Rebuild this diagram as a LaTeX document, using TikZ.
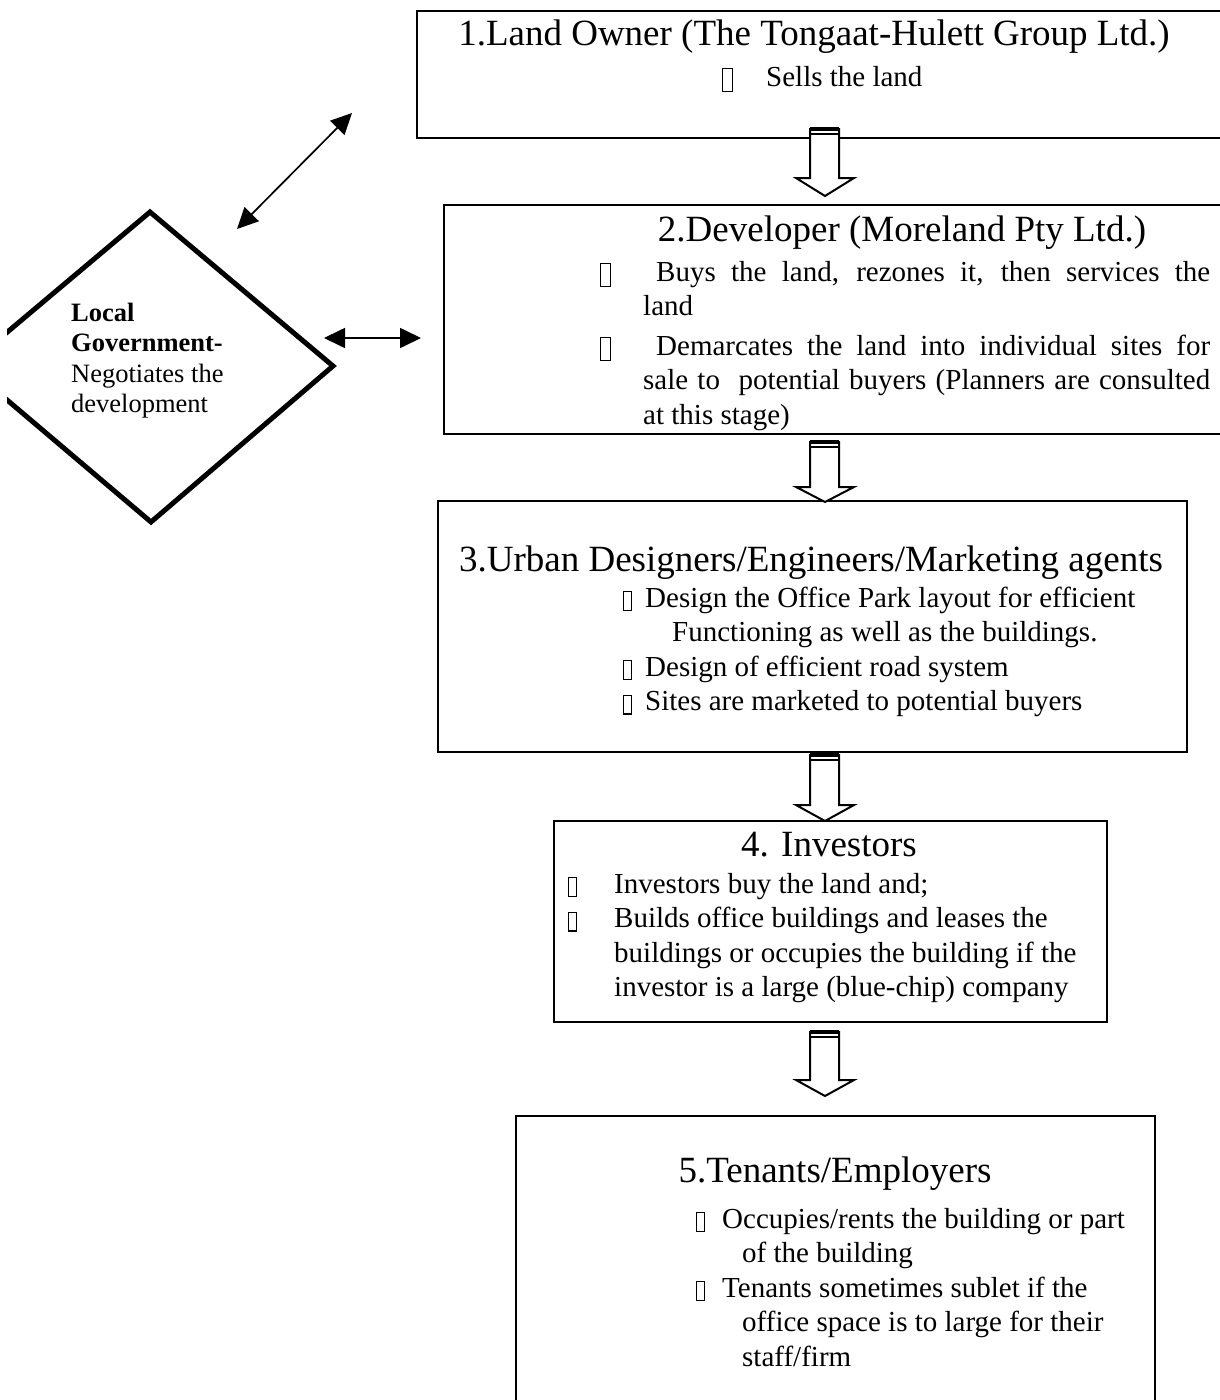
\documentclass[tikz,border=0pt]{standalone}
\usepackage{fontspec}
\setmainfont{Liberation Serif}
\usetikzlibrary{arrows.meta,shapes.geometric}

% hollow bullet glyphs
\newcommand\bx{\raisebox{-4.8pt}{\setlength\fboxsep{0pt}\setlength\fboxrule{1.2pt}\fbox{\rule{0pt}{21.6pt}\rule{8.6pt}{0pt}}}}
\newcommand\bxs{\raisebox{-2.8pt}{\setlength\fboxsep{0pt}\setlength\fboxrule{1.2pt}\fbox{\rule{0pt}{17.6pt}\rule{6.6pt}{0pt}}}}
\newcommand\titlefont{\fontsize{37}{44}\selectfont}
\newcommand\bodyfont{\fontsize{29}{34.5}\selectfont}
\newcommand\govfont{\fontsize{26.5}{30.5}\selectfont}

% hollow block arrow: top edge, start of head, tip
\newcommand\blockarrow[3]{%
  \draw[blockline] (810,#1) -- (810,#2) -- (796,#2) -- (825,#3) -- (854,#2) -- (839,#2) -- (839,#1) -- cycle;
  \draw[line width=3.2pt] (810,#1) -- (839,#1);
  \draw[line width=1.4pt] (810,#1+5) -- (839,#1+5);
}

\begin{document}
\begin{tikzpicture}[x=1pt,y=-1pt,
  stage/.style={draw=black, line width=1.7pt, rectangle, inner sep=0pt, anchor=north west},
  txt/.style={inner sep=0pt, anchor=base west},
  ttl/.style={inner sep=0pt, anchor=base, font=\titlefont},
  blockline/.style={draw=black, fill=white, line width=2pt, line join=miter},
  dbl/.style={line width=1.7pt, {Triangle[length=21pt,width=20pt]}-{Triangle[length=21pt,width=20pt]}}]

\useasboundingbox (0,0) rectangle (1219,1400);
\fill[white] (0,0) rectangle (1219,1400);

% stage boxes
\node[stage, minimum width=830pt, minimum height=127pt] (b1) at (416,10) {};
\node[stage, minimum width=800pt, minimum height=229pt] (b2) at (443,204) {};
\node[stage, minimum width=749pt, minimum height=251pt] (b3) at (437,500) {};
\node[stage, minimum width=553pt, minimum height=201pt] (b4) at (553,820) {};
\node[stage, minimum width=639pt, minimum height=340pt] (b5) at (515,1115) {};

% block arrows between the stages
\blockarrow{129}{178}{196}
\blockarrow{442}{487}{502}
\blockarrow{755}{805}{821}
\blockarrow{1032}{1080}{1096}

% local government diamond, cut at the left margin
\begin{scope}
  \clip (7,0) rectangle (1219,1400);
  \draw[line width=5pt, line join=miter] (150,212) -- (333,366) -- (151,522) -- (-33,366) -- cycle;
\end{scope}
\coordinate (lg) at (150,367);
\node[txt] (lgtext) at (71,321) {\vtop{\govfont
  \hbox{\bfseries Local}
  \hbox{\bfseries Government-}
  \hbox{Negotiates the}
  \hbox{development}}};

% two-way links to the land owner and the developer
\coordinate (d1a) at (237,229);
\coordinate (d1b) at (352,113);
\coordinate (d2a) at (324,338);
\coordinate (d2b) at (421,338);
\draw[dbl] (d1a) -- (d1b);
\draw[dbl] (d2a) -- (d2b);

% stage 1
\node[ttl] (t1) at (814,45) {1.Land Owner (The Tongaat-Hulett Group Ltd.)};
\node[txt] (s1) at (722,86) {\bodyfont\hbox to 44pt{\bx\hss}Sells the land};

% stage 2
\node[ttl] (t2) at (902,241) {2.Developer (Moreland Pty Ltd.)};
\node[txt] (s2) at (600,281) {\vtop{\bodyfont
  \hbox{\hbox to 56pt{\bx\hss}\hbox to 554pt{Buys the land, rezones it, then services the}}
  \hbox{\kern43pt land}
  \vskip5pt
  \hbox{\hbox to 56pt{\bx\hss}\hbox to 554pt{Demarcates the land into individual sites for}}
  \hbox{\kern43pt\hbox to 567pt{sale to\ \ potential buyers (Planners are consulted}}
  \hbox{\kern43pt at this stage)}}};

% stage 3
\node[ttl] (t3) at (811,571) {3.Urban Designers/Engineers/Marketing agents};
\node[txt] (s3) at (623,607) {\vtop{\bodyfont
  \hbox{\hbox to 22pt{\bxs\hss}Design the Office Park layout for efficient}
  \hbox{\kern49pt Functioning as well as the buildings.}
  \hbox{\hbox to 22pt{\bxs\hss}Design of efficient road system}
  \hbox{\hbox to 22pt{\bxs\hss}Sites are marketed to potential buyers}}};

% stage 4
\node[ttl] (t4) at (829,856) {4. Investors};
\node[txt] (s4) at (568,893) {\vtop{\bodyfont
  \hbox{\hbox to 46pt{\bxs\hss}Investors buy the land and;}
  \hbox{\hbox to 46pt{\bxs\hss}Builds office buildings and leases the}
  \hbox{\kern46pt buildings or occupies the building if the}
  \hbox{\kern46pt investor is a large (blue-chip) company}}};

% stage 5
\node[ttl] (t5) at (835,1182) {5.Tenants/Employers};
\node[txt] (s5) at (696,1228) {\vtop{\bodyfont
  \hbox{\hbox to 26pt{\bxs\hss}Occupies/rents the building or part}
  \hbox{\kern46pt of the building}
  \hbox{\hbox to 26pt{\bxs\hss}Tenants sometimes sublet if the}
  \hbox{\kern46pt office space is to large for their}
  \hbox{\kern46pt staff/firm}}};

\end{tikzpicture}
\end{document}
